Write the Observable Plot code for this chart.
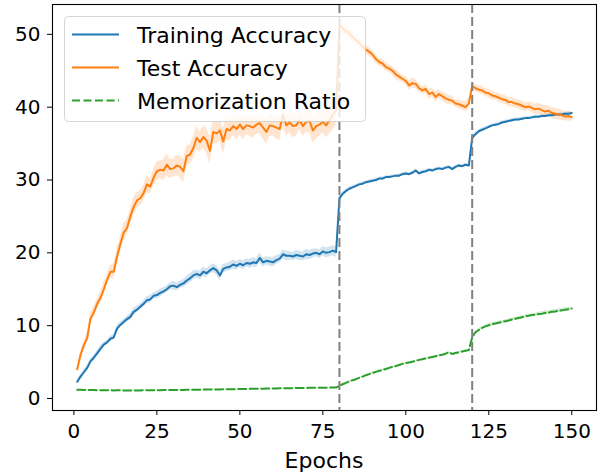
<!DOCTYPE html>
<html>
<head>
<meta charset="utf-8">
<script src="https://cdn.jsdelivr.net/npm/d3@7"></script>
<script src="https://cdn.jsdelivr.net/npm/@observablehq/plot@0.6"></script>
<style>
  html, body { margin: 0; padding: 0; background: #fff; }
  svg { display: block; }
</style>
</head>
<body>
<div id="chart"></div>
<script>
// ---- data ----
const epochs = d3.range(1, 151);

const trainAcc = [
  2.3,3.0,3.6,4.2,5.1,5.6,6.2,6.8,7.4,7.7,
  8.2,8.4,9.6,10.1,10.5,10.9,11.2,11.9,12.2,12.6,
  13.0,13.5,13.6,14.1,14.2,14.5,14.7,15.0,15.4,15.5,
  15.3,15.6,15.8,16.2,16.5,16.9,17.1,16.9,17.4,17.2,
  17.6,17.9,17.6,16.9,17.8,18.0,18.1,18.4,18.2,18.5,
  18.3,18.6,18.5,18.7,18.6,19.3,18.7,18.9,18.8,18.7,
  19.0,19.2,19.8,19.6,19.6,19.5,19.7,19.6,19.5,19.8,
  19.7,19.9,20.0,19.8,20.2,20.0,20.1,20.3,20.1,27.5,
  28.1,28.5,28.8,29.0,29.2,29.4,29.5,29.7,29.8,29.9,
  30.0,30.2,30.2,30.4,30.4,30.5,30.6,30.6,30.8,30.9,
  30.8,31.0,31.3,30.9,31.1,31.2,31.4,31.3,31.5,31.6,
  31.5,31.7,31.8,31.5,31.8,32.0,31.9,32.1,32.0,35.8,
  36.3,36.7,36.9,37.1,37.3,37.5,37.6,37.7,37.9,38.0,
  38.1,38.2,38.3,38.3,38.4,38.5,38.5,38.6,38.7,38.7,
  38.8,38.8,38.9,38.9,39.0,39.0,39.0,39.1,39.1,39.2
];
const trainStd = [
  0.2,0.25,0.3,0.3,0.35,0.3,0.35,0.4,0.35,0.3,
  0.35,0.4,0.45,0.4,0.35,0.4,0.45,0.5,0.45,0.4,
  0.45,0.5,0.5,0.45,0.5,0.55,0.5,0.45,0.5,0.6,
  0.55,0.5,0.55,0.6,0.65,0.6,0.55,0.6,0.65,0.6,
  0.55,0.6,0.65,0.7,0.6,0.55,0.6,0.65,0.6,0.55,
  0.6,0.55,0.6,0.65,0.6,0.7,0.6,0.55,0.6,0.65,
  0.6,0.55,0.6,0.65,0.6,0.55,0.6,0.65,0.6,0.7,
  0.65,0.6,0.55,0.6,0.65,0.7,0.65,0.7,0.75,0.4,
  0.3,0.25,0.25,0.2,0.2,0.2,0.2,0.2,0.2,0.2,
  0.2,0.2,0.2,0.2,0.2,0.2,0.2,0.2,0.2,0.2,
  0.2,0.2,0.2,0.2,0.2,0.2,0.2,0.2,0.2,0.2,
  0.2,0.2,0.2,0.2,0.2,0.2,0.2,0.2,0.2,0.3,
  0.25,0.2,0.2,0.2,0.2,0.2,0.2,0.2,0.2,0.2,
  0.2,0.2,0.2,0.2,0.2,0.2,0.2,0.2,0.2,0.2,
  0.2,0.2,0.2,0.2,0.2,0.2,0.2,0.2,0.2,0.2
];

const testAcc = [
  4.0,6.0,7.3,8.3,11.0,11.8,13.0,13.8,15.0,16.3,
  17.4,17.4,19.5,21.2,22.8,23.4,25.0,26.3,27.2,27.5,
  28.2,29.4,29.1,30.3,31.2,31.4,31.3,32.1,31.5,31.6,
  32.0,31.8,31.2,33.3,33.5,34.4,35.8,35.2,35.9,35.4,
  34.0,36.6,36.4,36.8,35.3,37.0,36.8,37.4,37.0,37.6,
  37.0,37.5,37.4,37.2,37.6,37.8,37.2,36.6,37.5,37.4,
  37.2,37.0,38.9,37.5,37.9,37.4,37.5,38.2,37.4,38.0,
  38.1,36.8,37.4,37.6,38.0,37.5,38.2,38.9,39.6,51.2,
  50.8,50.5,50.1,49.6,49.2,48.8,48.3,47.9,47.6,47.2,
  46.6,46.2,46.0,45.5,45.3,45.0,44.5,44.2,43.9,43.6,
  43.0,43.3,43.2,42.6,42.3,42.5,41.8,42.0,41.4,41.8,
  41.5,41.2,41.0,40.9,40.5,40.4,40.2,40.0,40.5,42.9,
  42.6,42.4,42.3,42.0,41.9,41.6,41.5,41.3,41.1,41.0,
  40.7,40.7,40.5,40.4,40.2,40.0,40.1,39.9,39.7,39.8,
  39.6,39.4,39.5,39.2,39.1,39.0,38.9,38.7,38.8,38.6
];
const testStd = [
  0.3,0.4,0.5,0.6,0.7,0.8,0.7,0.8,0.9,0.8,
  0.9,1.0,1.1,1.0,1.2,1.1,1.0,1.2,1.1,1.0,
  1.1,1.2,1.0,1.1,1.3,1.2,1.4,1.5,1.3,1.2,
  1.4,1.5,1.6,1.4,1.3,1.5,1.6,1.4,1.5,1.7,
  1.9,1.6,1.5,1.4,1.8,1.5,1.4,1.3,1.5,1.4,
  1.5,1.3,1.4,1.5,1.3,1.4,1.6,1.7,1.5,1.4,
  1.5,1.6,1.3,1.5,1.4,1.6,1.5,1.3,1.4,1.5,
  1.6,1.7,1.8,1.6,1.5,1.7,1.9,2.0,2.2,0.9,
  0.8,0.8,0.7,0.7,0.7,0.6,0.6,0.6,0.6,0.6,
  0.6,0.5,0.6,0.6,0.5,0.6,0.7,0.6,0.5,0.6,
  0.6,0.7,0.6,0.6,0.5,0.6,0.7,0.6,0.7,0.6,
  0.6,0.7,0.6,0.6,0.5,0.6,0.6,0.7,0.8,0.5,
  0.5,0.5,0.6,0.5,0.6,0.6,0.5,0.6,0.6,0.6,
  0.6,0.7,0.6,0.6,0.7,0.6,0.6,0.7,0.7,0.8,
  0.7,0.8,0.7,0.7,0.8,0.7,0.7,0.6,0.7,0.6
];

const memRatio = [
  1.20,1.19,1.18,1.17,1.16,1.15,1.14,1.13,1.12,1.12,
  1.12,1.11,1.13,1.11,1.10,1.10,1.10,1.10,1.11,1.11,
  1.12,1.12,1.13,1.13,1.14,1.14,1.15,1.15,1.16,1.17,
  1.17,1.18,1.18,1.19,1.19,1.20,1.21,1.21,1.22,1.23,
  1.23,1.24,1.25,1.25,1.26,1.27,1.27,1.28,1.29,1.30,
  1.30,1.31,1.32,1.33,1.33,1.34,1.35,1.36,1.36,1.37,
  1.38,1.39,1.40,1.40,1.41,1.42,1.43,1.44,1.44,1.45,
  1.46,1.47,1.47,1.48,1.48,1.49,1.49,1.50,1.50,1.75,
  1.95,2.15,2.35,2.50,2.65,2.85,3.00,3.20,3.35,3.50,
  3.65,3.80,3.90,4.05,4.20,4.35,4.45,4.60,4.75,4.85,
  4.95,5.05,5.15,5.30,5.40,5.50,5.60,5.70,5.80,5.90,
  6.00,6.15,6.35,6.10,6.25,6.35,6.45,6.55,6.65,8.40,
  9.10,9.40,9.70,9.90,10.05,10.20,10.30,10.40,10.50,10.60,
  10.70,10.85,10.95,11.05,11.15,11.25,11.35,11.45,11.50,11.60,
  11.65,11.75,11.80,11.90,11.95,12.05,12.10,12.20,12.25,12.35
];
const memStd = [
  0.05,0.05,0.05,0.05,0.05,0.05,0.05,0.05,0.05,0.05,
  0.05,0.05,0.05,0.05,0.05,0.05,0.05,0.05,0.05,0.05,
  0.05,0.05,0.05,0.05,0.05,0.05,0.05,0.05,0.05,0.05,
  0.05,0.05,0.05,0.05,0.05,0.05,0.05,0.05,0.05,0.05,
  0.05,0.05,0.05,0.05,0.05,0.05,0.05,0.05,0.05,0.05,
  0.05,0.05,0.05,0.05,0.05,0.05,0.05,0.05,0.05,0.05,
  0.05,0.05,0.05,0.05,0.05,0.05,0.05,0.05,0.05,0.05,
  0.05,0.05,0.05,0.05,0.05,0.05,0.05,0.05,0.05,0.1,
  0.1,0.1,0.1,0.1,0.1,0.1,0.1,0.1,0.1,0.1,
  0.1,0.1,0.1,0.1,0.1,0.1,0.1,0.1,0.1,0.1,
  0.1,0.1,0.1,0.1,0.1,0.1,0.1,0.1,0.1,0.1,
  0.1,0.1,0.1,0.1,0.1,0.1,0.1,0.1,0.1,0.2,
  0.2,0.2,0.2,0.2,0.2,0.2,0.2,0.2,0.2,0.2,
  0.2,0.2,0.2,0.2,0.2,0.2,0.2,0.2,0.2,0.25,
  0.25,0.25,0.25,0.25,0.25,0.25,0.25,0.25,0.25,0.25
];

const milestones = [80, 120];
const xTicks = [0, 25, 50, 75, 100, 125, 150];
const yTicks = [0, 10, 20, 30, 40, 50];
const seriesNames = ["Training Accuracy", "Test Accuracy", "Memorization Ratio"];
const seriesColors = ["#1f77b4", "#ff7f0e", "#2ca02c"];
const xLabel = "Epochs";

// ---- build table ----
const rows = epochs.map((e, i) => ({
  epoch: e,
  train: trainAcc[i], trainSd: trainStd[i],
  test: testAcc[i], testSd: testStd[i],
  mem: memRatio[i], memSd: memStd[i]
}));

const W = 602, H = 472;
const M = {top: 4, right: 6, bottom: 62, left: 52};

const chart = Plot.plot({
  width: W, height: H,
  marginTop: M.top, marginRight: M.right, marginBottom: M.bottom, marginLeft: M.left,
  style: {fontFamily: "'DejaVu Sans', sans-serif", fontSize: "20px", color: "#000", background: "#fff", overflow: "visible"},
  x: {domain: [-6.45, 157.45]},
  y: {domain: [-1.65, 54.1]},
  marks: [
    Plot.areaY(rows, {x: "epoch", y1: d => d.train - d.trainSd, y2: d => d.train + d.trainSd, fill: seriesColors[0], fillOpacity: 0.2}),
    Plot.areaY(rows, {x: "epoch", y1: d => d.test - d.testSd, y2: d => d.test + d.testSd, fill: seriesColors[1], fillOpacity: 0.2}),
    Plot.areaY(rows, {x: "epoch", y1: d => d.mem - d.memSd, y2: d => d.mem + d.memSd, fill: seriesColors[2], fillOpacity: 0.2}),
    Plot.lineY(rows, {x: "epoch", y: "train", stroke: seriesColors[0], strokeWidth: 2}),
    Plot.lineY(rows, {x: "epoch", y: "test", stroke: seriesColors[1], strokeWidth: 2}),
    Plot.lineY(rows, {x: "epoch", y: "mem", stroke: seriesColors[2], strokeWidth: 2, strokeDasharray: "8,3.5"}),
    Plot.ruleX(milestones, {stroke: "#808080", strokeWidth: 2, strokeDasharray: "9,4"}),
    Plot.frame({stroke: "#000", strokeWidth: 1.1}),
    Plot.axisX(xTicks, {tickSize: 5, tickPadding: 8, label: null, fontSize: 20, stroke: "#000"}),
    Plot.axisY(yTicks, {tickSize: 5, tickPadding: 7, label: null, fontSize: 20, stroke: "#000"})
  ]
});

document.getElementById("chart").append(chart);

// x-axis title
const svg = d3.select(chart);
svg.append("text")
  .attr("x", (M.left + (W - M.right)) / 2)
  .attr("y", 468)
  .attr("text-anchor", "middle")
  .attr("font-family", "'DejaVu Sans', sans-serif")
  .attr("font-size", 22)
  .attr("fill", "#000")
  .text(xLabel);

// legend (matplotlib style, drawn over the data)
const lg = svg.append("g").attr("text-anchor", "start");
lg.append("rect")
  .attr("x", 64.5).attr("y", 16.5).attr("width", 301).attr("height", 105)
  .attr("rx", 4).attr("ry", 4)
  .attr("fill", "#fff").attr("fill-opacity", 0.8)
  .attr("stroke", "#cccccc").attr("stroke-opacity", 0.8).attr("stroke-width", 1);
seriesNames.forEach((name, i) => {
  const yy = 34.5 + i * 33;
  lg.append("line")
    .attr("x1", 72).attr("x2", 119).attr("y1", yy).attr("y2", yy)
    .attr("stroke", seriesColors[i]).attr("stroke-width", 2)
    .attr("stroke-dasharray", i === 2 ? "8,3.5" : null);
  lg.append("text")
    .attr("x", 137).attr("y", yy + 8)
    .attr("text-anchor", "start")
    .attr("font-family", "'DejaVu Sans', sans-serif")
    .attr("font-size", 22)
    .attr("fill", "#000")
    .text(name);
});
</script>
</body>
</html>
